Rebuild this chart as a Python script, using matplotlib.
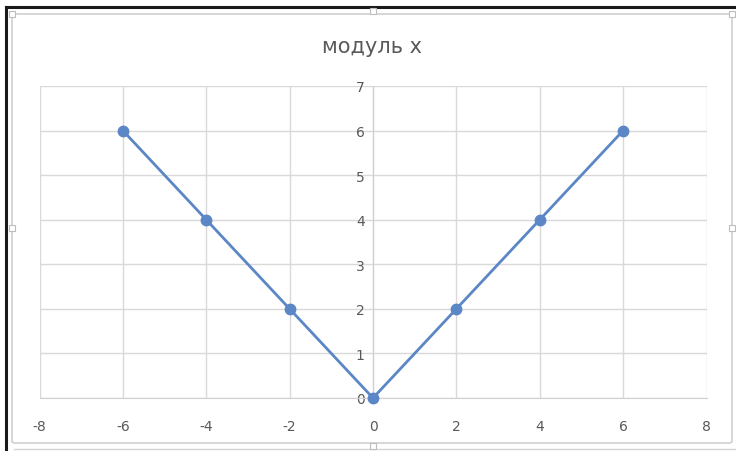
"""
Excel-style line chart of |x| ("модуль х").
"""
import matplotlib
matplotlib.use("Agg")
import matplotlib.pyplot as plt
from matplotlib.patches import FancyBboxPatch, Rectangle
from matplotlib.lines import Line2D

# data
x_vals = [-6, -4, -2, 0, 2, 4, 6]
y_vals = [6, 4, 2, 0, 2, 4, 6]
x_ticks = [-8, -6, -4, -2, 0, 2, 4, 6, 8]
y_ticks = [0, 1, 2, 3, 4, 5, 6, 7]
title = "модуль х"

W, H = 736, 452
line_col = '#5b87c6'
grid_col = '#d9d9d9'
text_col = '#595959'


def px(x, y):
    """pixel coords (top-left origin) -> figure fraction"""
    return x / W, 1 - y / H


fig = plt.figure(figsize=(W / 100, H / 100), dpi=100)
fig.patch.set_facecolor('white')

# screenshot frame: black edge on top and left
fig.add_artist(Line2D([6 / W, 6 / W], [0, px(0, 8)[1]], color='#1a1a1a', lw=2.2))
fig.add_artist(Line2D([6 / W, 1], [px(0, 8)[1]] * 2, color='#1a1a1a', lw=2.2))

# chart area border
x0, y0 = px(12, 444)
x1, y1 = px(732, 15)
fig.add_artist(FancyBboxPatch((x0, y0), x1 - x0, y1 - y0, boxstyle='round,pad=0,rounding_size=0.004',
                              transform=fig.transFigure, fc='none', ec='#cfcfcf', lw=1.2))
fig.add_artist(Line2D([px(14, 0)[0], 1], [px(0, 450)[1]] * 2, color='#d4d4d4', lw=1.0))

# selection handles
for hx, hy in [(12, 15), (373, 12), (732, 15), (12, 229), (732, 229), (373, 447)]:
    fx, fy = px(hx - 3, hy + 3)
    fig.add_artist(Rectangle((fx, fy), 6 / W, 6 / H, transform=fig.transFigure,
                             fc='white', ec='#bdbdbd', lw=0.8, zorder=5))

ax = fig.add_axes([39.5 / W, 53 / H, 667 / W, 312 / H])
ax.plot(x_vals, y_vals, color=line_col, lw=2.0, marker='o', ms=7.5, clip_on=False, zorder=4)

ax.set_xlim(-8, 8)
ax.set_ylim(0, 7)
ax.set_xticks(x_ticks)
ax.set_yticks(y_ticks)
ax.grid(True, color=grid_col, lw=1.0)
ax.set_axisbelow(True)

for s in ['top', 'right']:
    ax.spines[s].set_visible(False)
ax.spines['left'].set_position(('data', 0))
ax.spines['left'].set_color('#d0d0d0')
ax.spines['bottom'].set_color('#d0d0d0')
ax.tick_params(length=0, labelsize=10, labelcolor=text_col)
ax.tick_params(axis='x', pad=15)
ax.tick_params(axis='y', pad=6)
ax.set_xticklabels([str(t) for t in x_ticks])
ax.set_yticklabels([str(t) for t in y_ticks])

fig.text(372 / W, 1 - 47 / H, title, ha='center', va='center', fontsize=15, color=text_col)

plt.savefig('out.png', dpi=100)
